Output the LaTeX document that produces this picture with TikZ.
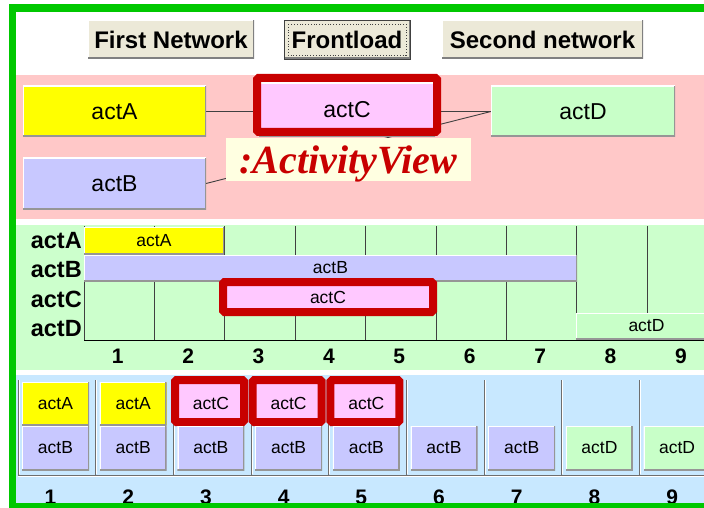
\documentclass[tikz,border=0pt]{standalone}
\usepackage{fontspec}
\setmainfont{Liberation Sans}
\newfontfamily\tagserif{Liberation Serif}

\definecolor{frameGreen}{RGB}{0,200,0}
\definecolor{btnFace}{RGB}{236,233,216}
\definecolor{btnShade}{RGB}{128,128,128}
\definecolor{netPanel}{RGB}{255,200,200}
\definecolor{ganttPanel}{RGB}{204,255,204}
\definecolor{slotPanel}{RGB}{200,232,255}
\definecolor{actAcol}{RGB}{255,255,0}
\definecolor{actBcol}{RGB}{200,200,255}
\definecolor{actCcol}{RGB}{255,200,255}
\definecolor{actDcol}{RGB}{200,255,200}
\definecolor{hilite}{RGB}{200,0,0}
\definecolor{tagBg}{RGB}{255,255,225}
\definecolor{edgeShade}{RGB}{150,150,150}
\definecolor{gridGray}{RGB}{64,64,64}
\definecolor{sepGray}{RGB}{110,110,110}

\pgfdeclarelayer{panels}
\pgfdeclarelayer{wires}
\pgfsetlayers{panels,wires,main}

% box given by its corners: name, style, x1, y1, x2, y2, text
\newcommand{\actbox}[7]{%
  \node[raised,#2,minimum width={((#5)-(#3))*1pt},minimum height={((#6)-(#4))*1pt}]
    (#1) at ({((#3)+(#5))/2},{((#4)+(#6))/2}) {#7};}

\tikzset{
  raised/.style={inner sep=0pt, outer sep=0pt, shadecol=edgeShade},
  shadecol/.style={path picture={
      \draw[white,line width=2.4pt] (path picture bounding box.south west)
        -- (path picture bounding box.north west) -- (path picture bounding box.north east);
      \draw[#1,line width=3pt] (path picture bounding box.south west)
        -- (path picture bounding box.south east) -- (path picture bounding box.north east);}},
  button/.style={fill=btnFace, shadecol=btnShade,
    font=\fontsize{24}{26}\selectfont\bfseries},
  netbox/.style={font=\fontsize{23}{25}\selectfont},
  ganttbar/.style={font=\fontsize{17.5}{19}\selectfont},
  slotbox/.style={font=\fontsize{17.5}{19}\selectfont},
  rowlabel/.style={inner sep=0pt, anchor=east, font=\fontsize{23.5}{25}\selectfont\bfseries},
  numlabel/.style={inner sep=0pt, font=\fontsize{21}{23}\selectfont\bfseries},
  wire/.style={draw=gridGray, line width=0.9pt},
  gridline/.style={draw=gridGray, line width=1pt},
  hiframe/.style={draw=hilite, line width=8pt, rounded corners=1.5pt},
  tag/.style={fill=tagBg, inner sep=0pt, minimum width=245pt, minimum height=43pt,
    text depth=0pt, text=hilite, font=\tagserif\fontsize{40}{42}\selectfont\bfseries\itshape},
}

\begin{document}
\begin{tikzpicture}[x=1pt,y=-1pt]
\useasboundingbox (0,0) rectangle (704,508);

% panels
\begin{pgfonlayer}{panels}
  \fill[white] (0,0) rectangle (704,508);
  \fill[netPanel] (16,75) rectangle (704,219);
  \fill[ganttPanel] (16,225) rectangle (704,370);
  \fill[slotPanel] (16,375) rectangle (704,503);
\end{pgfonlayer}

% buttons
\actbox{btnFirst}{button}{88}{20}{254}{59}{First Network}
\actbox{btnFront}{button,draw=gridGray,line width=0.6pt}{284}{20}{410}{59}{Frontload}
\draw[dotted, line width=0.8pt, gridGray] ([xshift=4pt,yshift=-4pt]btnFront.north west)
  rectangle ([xshift=-4pt,yshift=4pt]btnFront.south east);
\actbox{btnSecond}{button}{442}{20}{643}{59}{Second network}

% activity network
\actbox{nA}{netbox,fill=actAcol}{23}{86}{206}{137}{actA}
\actbox{nB}{netbox,fill=actBcol}{23}{158}{206}{209}{actB}
\actbox{nD}{netbox,fill=actDcol}{491}{86}{675}{137}{actD}
\actbox{nC}{netbox,fill=actCcol}{259}{83}{435}{137}{actC}
\draw[hiframe] (257,78) rectangle (437,132);
\node[tag] (view) at (348.5,159.5) {:ActivityView};
\begin{pgfonlayer}{wires}
  \draw[wire] (nA.east) -- (nA.east -| nC.west);
  \draw[wire] (nD.west -| nC.east) -- (nD.west);
  \draw[wire] (nB.east) -- (nD.west);
\end{pgfonlayer}

% gantt chart
\foreach \k in {0,...,9}
  \draw[gridline] ({84+70.4*\k},226) -- ({84+70.4*\k},340);
\draw[gridline, draw=black] (84,340) -- (704,340);
\actbox{gA}{ganttbar,fill=actAcol}{84}{227}{224}{254}{actA}
\actbox{gB}{ganttbar,fill=actBcol}{84}{255}{577}{281}{actB}
\actbox{gC}{ganttbar,fill=actCcol}{225}{284}{431}{310}{actC}
\actbox{gD}{ganttbar,fill=actDcol}{576}{313}{717}{339}{actD}
\draw[hiframe] (223,282) rectangle (433,312);
\node[rowlabel] (lA) at (82,241) {actA};
\node[rowlabel] (lB) at (82,270) {actB};
\node[rowlabel] (lC) at (82,299.5) {actC};
\node[rowlabel] (lD) at (82,329) {actD};
\foreach \k in {1,...,9}
  \node[numlabel] (g\k) at ({84+70.4*(\k-0.5)-1.5},356) {\k};

% time slots
\foreach \k in {0,...,8} {
  \draw[draw=sepGray, line width=1pt] ({18+77.7*\k},380) -- ({18+77.7*\k},475);
  \draw[draw=white, line width=1pt] ({19+77.7*\k},380) -- ({19+77.7*\k},474);
}
\draw[draw=sepGray, line width=1pt] (18,475) -- (704,475);
\draw[draw=white, line width=1pt] (18,476) -- (704,476);
\foreach \k/\t/\c in {1/actA/actAcol, 2/actA/actAcol, 3/actC/actCcol, 4/actC/actCcol, 5/actC/actCcol} {
  \pgfmathsetmacro\L{18+77.7*(\k-1)}
  \actbox{sT\k}{slotbox,fill=\c}{\L+4}{382}{\L+71}{425}{\t}
}
\foreach \k in {3,4,5} {
  \pgfmathsetmacro\L{18+77.7*(\k-1)}
  \draw[hiframe] (\L+1.6,380) rectangle (\L+70.6,422);
}
\foreach \k/\t/\c in {1/actB/actBcol, 2/actB/actBcol, 3/actB/actBcol, 4/actB/actBcol,
    5/actB/actBcol, 6/actB/actBcol, 7/actB/actBcol, 8/actD/actDcol, 9/actD/actDcol} {
  \pgfmathsetmacro\L{18+77.7*(\k-1)}
  \actbox{sB\k}{slotbox,fill=\c}{\L+4}{426}{\L+71}{470}{\t}
}
\foreach \k in {1,...,9}
  \node[numlabel] (s\k) at ({18+77.7*(\k-1)+32.5},497.5) {\k};

% outer green frame
\fill[frameGreen] (9,4) rectangle (704,12);
\fill[frameGreen] (9,4) rectangle (16,508);
\fill[frameGreen] (9,503) rectangle (704,508);
\end{tikzpicture}
\end{document}
